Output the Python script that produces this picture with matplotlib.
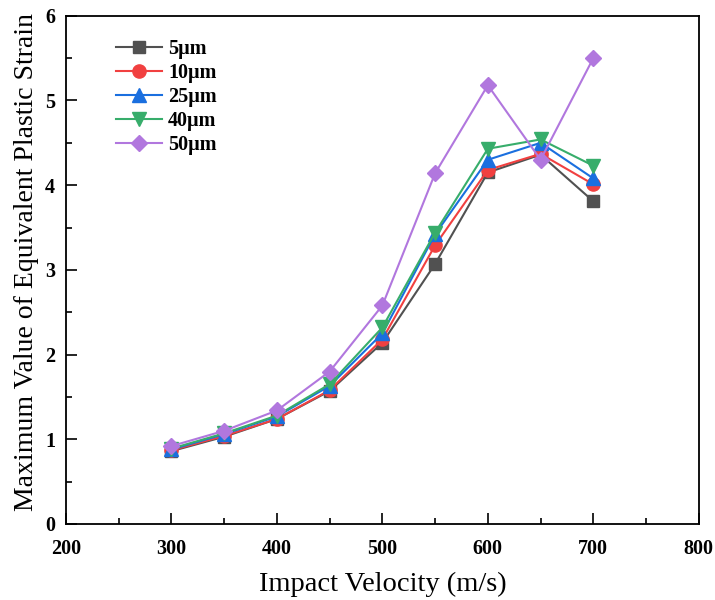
import numpy as np
import matplotlib
matplotlib.use('Agg')
import matplotlib.pyplot as plt
from matplotlib.ticker import MultipleLocator

# impact velocity (m/s)
velocity = [300, 350, 400, 450, 500, 550, 600, 650, 700]

# max equivalent plastic strain for each particle size
strain_5 = [0.86, 1.03, 1.24, 1.57, 2.14, 3.07, 4.15, 4.36, 3.81]
strain_10 = [0.87, 1.04, 1.24, 1.58, 2.18, 3.29, 4.18, 4.37, 4.01]
strain_25 = [0.88, 1.06, 1.27, 1.63, 2.25, 3.42, 4.30, 4.50, 4.08]
strain_40 = [0.89, 1.07, 1.28, 1.65, 2.32, 3.44, 4.43, 4.54, 4.23]
strain_50 = [0.92, 1.10, 1.34, 1.80, 2.58, 4.14, 5.18, 4.30, 5.50]

labels = ['5\u03bcm', '10\u03bcm', '25\u03bcm', '40\u03bcm', '50\u03bcm']
series = [strain_5, strain_10, strain_25, strain_40, strain_50]
colors = ['#515151', '#F14040', '#1A6FDF', '#37AD6B', '#B177DE']
markers = ['s', 'o', '^', 'v', 'D']
sizes = [8.5, 9.5, 9.5, 9.5, 8.5]

plt.rcParams['font.family'] = ['Liberation Serif', 'DejaVu Serif']

fig = plt.figure(figsize=(7.15, 6.0), dpi=100)
ax = fig.add_axes([0.0923, 0.1267, 0.885, 0.847])

for y, lab, c, m, s in zip(series, labels, colors, markers, sizes):
    ax.plot(velocity, y, color=c, marker=m, markersize=s, linewidth=1.5, label=lab)

ax.set_xlim(200, 800)
ax.set_ylim(0, 6)
ax.xaxis.set_major_locator(MultipleLocator(100))
ax.xaxis.set_minor_locator(MultipleLocator(50))
ax.yaxis.set_major_locator(MultipleLocator(1))
ax.yaxis.set_minor_locator(MultipleLocator(0.5))
ax.tick_params(which='both', direction='in', top=False, right=False, width=1.2)
ax.tick_params(which='major', length=8, labelsize=14.5)
ax.tick_params(which='minor', length=4)
ax.tick_params(axis='x', which='major', pad=11)
ax.tick_params(axis='y', which='major', pad=8)
for lbl in ax.get_xticklabels() + ax.get_yticklabels():
    lbl.set_fontweight('bold')
for sp in ax.spines.values():
    sp.set_linewidth(1.3)

ax.set_xlabel('Impact Velocity (m/s)', fontsize=20.5)
ax.set_ylabel('Maximum Value of Equivalent Plastic Strain', fontsize=20)
ax.xaxis.set_label_coords(0.5, -0.095)
ax.yaxis.set_label_coords(-0.043, 0.515)

leg = ax.legend(loc='upper left', bbox_to_anchor=(0.05, 0.99), frameon=False,
                prop={'weight': 'bold', 'size': 14.5}, handlelength=2.3,
                labelspacing=0.2, handletextpad=0.3)

fig.savefig('out.png', dpi=100)
